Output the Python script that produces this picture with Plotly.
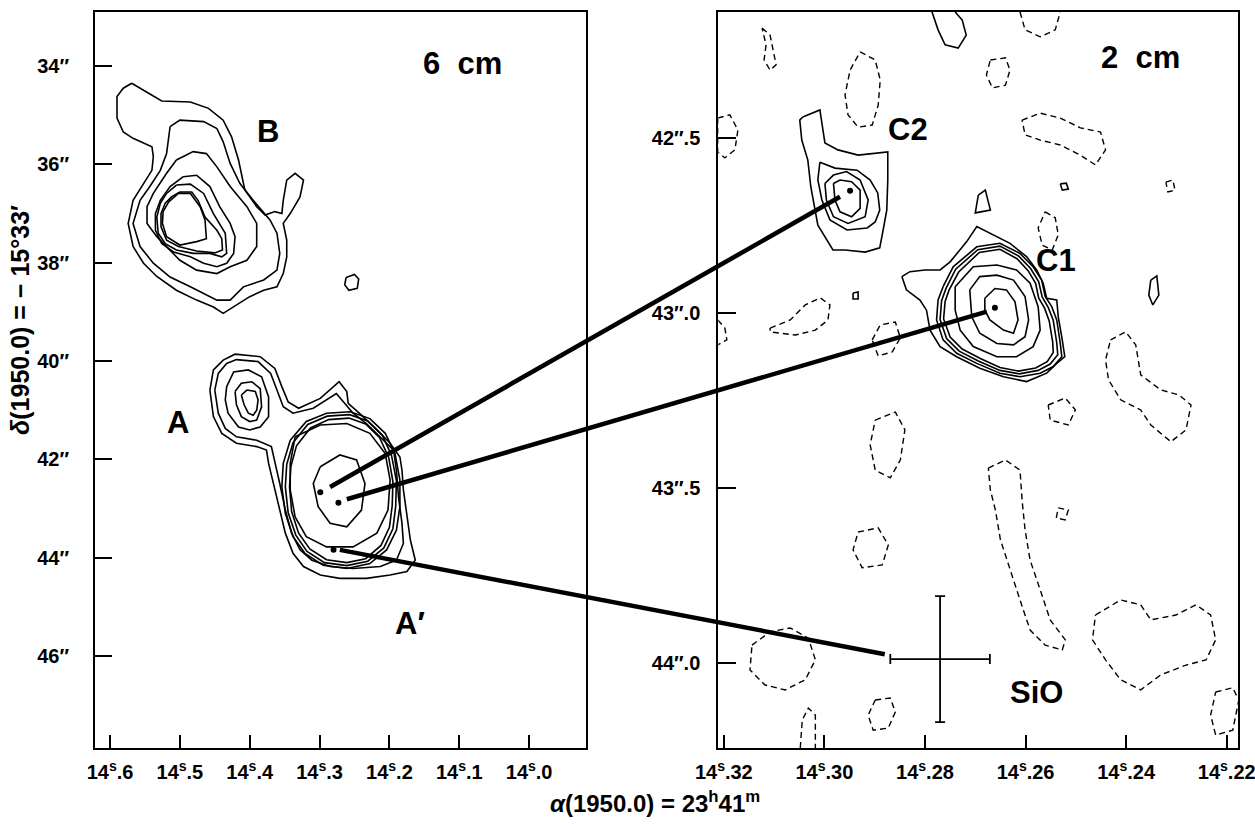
import plotly.graph_objects as go

# ---------------- data (RA seconds, Dec arcsec) ----------------
# Left panel: 6 cm map.  Source B contours (outer -> inner)
B_RINGS = [
    [(14.569,34.35),(14.545,34.56),(14.526,34.71),(14.485,34.73),(14.459,34.86),(14.438,35.10),(14.426,35.44),
     (14.416,35.91),(14.407,36.52),(14.390,36.86),(14.378,37.03),(14.364,36.96),(14.354,37.00),(14.352,36.73),
     (14.347,36.32),(14.335,36.18),(14.323,36.32),(14.328,36.66),(14.342,37.00),(14.352,37.20),(14.347,37.54),
     (14.347,37.88),(14.352,38.22),(14.361,38.49),(14.380,38.56),(14.400,38.69),(14.423,38.90),(14.438,39.03),
     (14.452,38.90),(14.476,38.76),(14.505,38.56),(14.533,38.28),(14.552,38.01),(14.567,37.67),(14.574,37.20),
     (14.567,36.73),(14.552,36.39),(14.540,36.12),(14.538,35.84),(14.540,35.64),(14.567,35.47),(14.581,35.34),
     (14.590,35.06),(14.590,34.62),(14.581,34.45)],
    [(14.514,35.23),(14.500,35.10),(14.466,35.13),(14.447,35.27),(14.438,35.54),(14.428,35.98),(14.414,36.39),
     (14.395,36.73),(14.371,37.13),(14.361,37.40),(14.357,37.81),(14.361,38.15),(14.380,38.35),(14.409,38.49),
     (14.428,38.76),(14.447,38.76),(14.485,38.49),(14.514,38.29),(14.538,38.01),(14.557,37.67),(14.567,37.20),
     (14.557,36.73),(14.543,36.45),(14.528,36.12),(14.519,35.78),(14.516,35.44)],
    [(14.505,35.91),(14.481,35.74),(14.462,35.78),(14.447,36.05),(14.428,36.45),(14.404,36.86),(14.390,37.20),
     (14.390,37.67),(14.404,37.95),(14.428,38.08),(14.447,38.22),(14.476,38.15),(14.500,37.95),(14.519,37.67),
     (14.533,37.47),(14.547,37.20),(14.547,36.86),(14.538,36.59),(14.519,36.18)],
    [(14.495,36.25),(14.476,36.22),(14.457,36.45),(14.443,36.86),(14.428,37.20),(14.421,37.47),(14.423,37.81),
     (14.433,38.01),(14.447,38.08),(14.466,38.01),(14.485,37.88),(14.509,37.78),(14.526,37.61),(14.535,37.34),
     (14.535,37.00),(14.528,36.73),(14.514,36.45)],
    [(14.505,36.42),(14.485,36.40),(14.466,36.59),(14.452,37.00),(14.435,37.40),(14.433,37.81),(14.440,37.88),
     (14.457,37.81),(14.481,37.81),(14.505,37.74),(14.521,37.61),(14.531,37.40),(14.533,37.07),(14.528,36.79),
     (14.519,36.59)],
    [(14.500,36.56),(14.483,36.56),(14.474,36.73),(14.464,37.07),(14.447,37.34),(14.440,37.51),(14.439,37.74),
     (14.450,37.80),(14.476,37.76),(14.502,37.67),(14.519,37.54),(14.527,37.27),(14.527,37.00),(14.521,36.79),
     (14.512,36.66)],
    [(14.502,36.59),(14.485,36.59),(14.471,36.86),(14.464,37.13),(14.462,37.51),(14.476,37.57),(14.500,37.64),
     (14.519,37.47),(14.525,37.20),(14.524,36.96),(14.516,36.76)],
]
B_KNOT = [(14.262,38.30),(14.250,38.24),(14.244,38.33),(14.246,38.52),(14.258,38.56),(14.264,38.45)]

# Source A complex (outer envelopes, side lobe rings, main ellipse rings)
A_ENVELOPES = [
    [(14.457,40.59),(14.452,40.18),(14.438,39.98),(14.421,39.86),(14.385,39.91),(14.364,40.15),(14.354,40.52),
     (14.345,40.83),(14.330,40.96),(14.299,40.76),(14.272,40.42),(14.261,40.62),(14.259,40.86),(14.240,41.10),
     (14.218,41.40),(14.199,41.67),(14.185,41.95),(14.182,42.22),(14.180,42.62),(14.175,43.17),(14.170,43.64),
     (14.163,44.05),(14.175,44.28),(14.199,44.35),(14.233,44.42),(14.271,44.42),(14.299,44.35),(14.323,44.18),
     (14.338,43.91),(14.349,43.50),(14.357,43.03),(14.366,42.49),(14.373,42.08),(14.376,41.81),(14.390,41.74),
     (14.419,41.67),(14.440,41.47),(14.452,41.13)],
    [(14.450,40.59),(14.445,40.25),(14.433,40.05),(14.419,39.97),(14.388,40.01),(14.370,40.25),(14.361,40.59),
     (14.352,40.93),(14.338,41.06),(14.309,40.96),(14.276,40.66),(14.264,40.86),(14.252,41.06),(14.233,41.27),
     (14.213,41.54),(14.194,41.81),(14.190,42.22),(14.187,42.76),(14.182,43.30),(14.180,43.71),(14.190,44.05),
     (14.213,44.18),(14.252,44.22),(14.285,44.18),(14.311,44.05),(14.328,43.84),(14.340,43.50),(14.349,43.03),
     (14.357,42.49),(14.364,42.08),(14.369,41.74),(14.390,41.61),(14.419,41.54),(14.435,41.37),(14.445,41.06)],
]
A_LOBE_RINGS = [
    [(14.433,40.52),(14.423,40.22),(14.402,40.18),(14.383,40.32),(14.373,40.73),(14.373,41.13),(14.385,41.34),
     (14.400,41.40),(14.416,41.34),(14.431,41.06),(14.435,40.79)],
    [(14.421,40.62),(14.412,40.45),(14.397,40.42),(14.385,40.56),(14.383,40.93),(14.390,41.20),(14.400,41.23),
     (14.412,41.13),(14.419,40.89)],
    [(14.412,40.69),(14.404,40.59),(14.392,40.62),(14.388,40.79),(14.390,41.00),(14.395,41.10),(14.402,41.06),
     (14.408,40.89)],
]
A_MAIN_RINGS = [
    [(14.342,41.61),(14.319,41.23),(14.290,41.06),(14.256,41.03),(14.228,41.17),(14.206,41.47),(14.192,41.88),
     (14.185,42.42),(14.185,42.96),(14.190,43.44),(14.204,43.84),(14.228,44.12),(14.261,44.22),(14.295,44.15),
     (14.321,43.91),(14.338,43.57),(14.349,43.10),(14.354,42.56),(14.352,42.08)],
    [(14.338,41.66),(14.317,41.29),(14.289,41.12),(14.257,41.09),(14.231,41.22),(14.210,41.51),(14.197,41.92),
     (14.190,42.43),(14.191,42.95),(14.195,43.41),(14.208,43.80),(14.231,44.07),(14.261,44.16),(14.293,44.10),
     (14.318,43.87),(14.334,43.54),(14.345,43.08),(14.349,42.56),(14.347,42.10)],
    [(14.333,41.72),(14.313,41.36),(14.287,41.19),(14.258,41.16),(14.234,41.28),(14.214,41.56),(14.201,41.96),
     (14.195,42.45),(14.196,42.94),(14.200,43.38),(14.212,43.75),(14.234,44.02),(14.261,44.10),(14.290,44.04),
     (14.314,43.82),(14.330,43.50),(14.340,43.06),(14.343,42.56),(14.341,42.14)],
    [(14.335,41.54),(14.299,41.30),(14.261,41.27),(14.228,41.47),(14.206,41.88),(14.199,42.42),(14.202,43.03),
     (14.218,43.50),(14.252,43.78),(14.290,43.78),(14.319,43.57),(14.335,43.17),(14.342,42.62),(14.342,42.08)],
    [(14.299,42.15),(14.271,41.91),(14.247,42.01),(14.235,42.49),(14.240,43.03),(14.261,43.37),(14.285,43.30),
     (14.302,42.96),(14.309,42.49)],
]
# component positions marked in the 6 cm panel
A_DOTS_RA = [14.299, 14.273, 14.280]
A_DOTS_DEC = [42.67, 42.88, 43.84]

# Right panel: 2 cm map, positive contours
C2_RINGS = [
    [(14.3043,42.441),(14.3009,42.421),(14.2999,42.515),(14.2973,42.535),(14.2933,42.550),(14.2874,42.541),
     (14.2874,42.621),(14.2876,42.707),(14.2884,42.770),(14.2890,42.815),(14.2919,42.827),(14.2959,42.821),
     (14.2983,42.821),(14.3013,42.750),(14.3027,42.641),(14.3033,42.564),(14.3045,42.507),(14.3049,42.450)],
    [(14.3009,42.570),(14.2979,42.587),(14.2935,42.593),(14.2909,42.621),(14.2894,42.658),(14.2890,42.707),
     (14.2899,42.741),(14.2915,42.758),(14.2955,42.764),(14.2989,42.735),(14.3005,42.678),(14.3013,42.621)],
    [(14.2999,42.631),(14.2982,42.607),(14.2956,42.597),(14.2929,42.621),(14.2913,42.678),(14.2919,42.726),
     (14.2953,42.745),(14.2982,42.726),(14.2996,42.678)],
    [(14.2982,42.631),(14.2969,42.621),(14.2946,42.626),(14.2929,42.650),(14.2929,42.702),(14.2946,42.726),
     (14.2969,42.712),(14.2979,42.678)],
]
C1_RINGS = [
    [(14.2846,42.897),(14.2830,42.883),(14.2800,42.878),(14.2770,42.878),(14.2750,42.855),(14.2717,42.797),
     (14.2697,42.754),(14.2657,42.783),(14.2631,42.802),(14.2598,42.840),(14.2578,42.878),(14.2565,42.916),
     (14.2558,42.959),(14.2538,42.964),(14.2535,43.012),(14.2528,43.069),(14.2522,43.126),(14.2538,43.145),
     (14.2558,43.173),(14.2598,43.197),(14.2644,43.183),(14.2691,43.159),(14.2737,43.126),(14.2770,43.097),
     (14.2790,43.050),(14.2797,42.993),(14.2810,42.964),(14.2837,42.935)],
    [(14.2764,42.926),(14.2744,42.869),(14.2697,42.812),(14.2651,42.802),(14.2611,42.831),(14.2585,42.869),
     (14.2568,42.907),(14.2561,42.954),(14.2548,42.983),(14.2538,43.021),(14.2531,43.088),(14.2528,43.126),
     (14.2545,43.154),(14.2571,43.173),(14.2611,43.183),(14.2651,43.173),(14.2697,43.145),(14.2737,43.116),
     (14.2764,43.078),(14.2777,43.021),(14.2774,42.964)],
    [(14.2758,42.930),(14.2739,42.876),(14.2695,42.820),(14.2651,42.810),(14.2614,42.838),(14.2590,42.874),
     (14.2574,42.911),(14.2567,42.955),(14.2555,42.985),(14.2545,43.022),(14.2538,43.086),(14.2536,43.120),
     (14.2551,43.147),(14.2575,43.165),(14.2612,43.175),(14.2651,43.165),(14.2694,43.138),(14.2732,43.110),
     (14.2757,43.074),(14.2770,43.020),(14.2767,42.966)],
    [(14.2752,42.935),(14.2733,42.884),(14.2692,42.828),(14.2651,42.819),(14.2617,42.846),(14.2595,42.880),
     (14.2580,42.916),(14.2574,42.958),(14.2562,42.988),(14.2553,43.024),(14.2546,43.084),(14.2545,43.114),
     (14.2557,43.140),(14.2580,43.158),(14.2614,43.167),(14.2651,43.157),(14.2690,43.131),(14.2726,43.104),
     (14.2750,43.070),(14.2763,43.018),(14.2760,42.968)],
    [(14.2740,42.926),(14.2704,42.869),(14.2657,42.864),(14.2618,42.878),(14.2591,42.916),(14.2575,42.983),
     (14.2571,43.050),(14.2585,43.097),(14.2618,43.126),(14.2657,43.126),(14.2704,43.097),(14.2730,43.050),
     (14.2740,42.993)],
    [(14.2711,42.935),(14.2691,42.897),(14.2657,42.893),(14.2624,42.907),(14.2601,42.954),(14.2594,43.021),
     (14.2601,43.069),(14.2624,43.092),(14.2657,43.088),(14.2691,43.059),(14.2707,43.012)],
    [(14.2681,42.959),(14.2661,42.931),(14.2638,42.935),(14.2621,42.969),(14.2615,43.021),(14.2624,43.059),
     (14.2644,43.050),(14.2671,43.021),(14.2681,42.993)],
]
# small isolated positive contours in the 2 cm map
POS_SMALL = [
    [(14.2694,42.664),(14.2680,42.650),(14.2670,42.707),(14.2700,42.715)],
    [(14.2531,42.632),(14.2519,42.630),(14.2515,42.647),(14.2527,42.650)],
    [(14.2351,42.907),(14.2339,42.895),(14.2335,42.950),(14.2347,42.978),(14.2355,42.950)],
    [(14.2943,42.944),(14.2933,42.941),(14.2933,42.961),(14.2943,42.961)],
]
POS_OPEN = [
    [(14.2786,42.141),(14.2774,42.192),(14.2760,42.235),(14.2734,42.244),(14.2718,42.207),(14.2726,42.164),(14.2740,42.141)],
]
# negative (dashed) contours in the 2 cm map
NEG_CLOSED = [
    [(14.3124,42.187),(14.3108,42.207),(14.3102,42.250),(14.3096,42.292),(14.3108,42.307),(14.3120,42.278),(14.3116,42.235)],
    [(14.2929,42.255),(14.2899,42.278),(14.2889,42.335),(14.2893,42.407),(14.2905,42.464),(14.2933,42.470),(14.2953,42.435),(14.2959,42.378),(14.2949,42.307)],
    [(14.2670,42.278),(14.2640,42.272),(14.2631,42.307),(14.2640,42.350),(14.2666,42.358),(14.2678,42.321)],
    [(14.2607,42.450),(14.2571,42.430),(14.2531,42.444),(14.2491,42.472),(14.2451,42.484),(14.2441,42.535),(14.2461,42.578),(14.2491,42.550),(14.2531,42.521),(14.2571,42.507),(14.2601,42.492)],
    [(14.2561,42.712),(14.2541,42.729),(14.2535,42.778),(14.2547,42.821),(14.2567,42.807),(14.2575,42.758)],
    [(14.2321,42.627),(14.2307,42.621),(14.2303,42.650),(14.2317,42.655)],
    [(14.3212,42.444),(14.3188,42.435),(14.3172,42.478),(14.3178,42.535),(14.3198,42.558),(14.3212,42.541)],
    [(14.3108,43.044),(14.3068,43.021),(14.3038,42.978),(14.3008,42.958),(14.2989,42.978),(14.2993,43.021),(14.3018,43.050),(14.3058,43.064),(14.3108,43.055)],
    [(14.2905,43.078),(14.2889,43.035),(14.2859,43.027),(14.2849,43.072),(14.2865,43.112),(14.2893,43.124)],
    [(14.2431,43.078),(14.2401,43.055),(14.2381,43.092),(14.2371,43.178),(14.2331,43.221),(14.2295,43.235),(14.2271,43.264),(14.2281,43.335),(14.2311,43.369),(14.2351,43.321),(14.2371,43.278),(14.2411,43.249),(14.2435,43.192),(14.2441,43.135)],
    [(14.2555,43.264),(14.2521,43.244),(14.2501,43.278),(14.2515,43.321),(14.2551,43.307)],
    [(14.2899,43.307),(14.2859,43.284),(14.2840,43.335),(14.2849,43.421),(14.2869,43.472),(14.2899,43.450),(14.2909,43.378)],
    [(14.2674,43.444),(14.2640,43.421),(14.2611,43.450),(14.2607,43.535),(14.2601,43.621),(14.2591,43.707),(14.2571,43.792),(14.2551,43.878),(14.2521,43.935),(14.2527,43.964),(14.2561,43.950),(14.2591,43.907),(14.2611,43.821),(14.2631,43.735),(14.2650,43.649),(14.2660,43.564),(14.2670,43.507)],
    [(14.2535,43.558),(14.2515,43.564),(14.2521,43.592),(14.2539,43.587)],
    [(14.2933,43.627),(14.2893,43.615),(14.2873,43.664),(14.2885,43.721),(14.2925,43.729),(14.2943,43.678)],
    [(14.3144,43.950),(14.3108,43.912),(14.3068,43.901),(14.3032,43.930),(14.3018,43.992),(14.3038,44.049),(14.3078,44.078),(14.3118,44.064),(14.3148,44.021)],
    [(14.2461,43.864),(14.2411,43.821),(14.2371,43.835),(14.2351,43.878),(14.2301,43.864),(14.2261,43.835),(14.2232,43.864),(14.2222,43.935),(14.2241,43.992),(14.2281,44.007),(14.2331,44.035),(14.2371,44.078),(14.2411,44.049),(14.2441,43.992),(14.2467,43.935)],
    [(14.2222,44.084),(14.2188,44.072),(14.2176,44.107),(14.2188,44.193),(14.2222,44.207),(14.2232,44.150)],
    [(14.2899,44.107),(14.2869,44.101),(14.2859,44.141),(14.2873,44.187),(14.2903,44.193),(14.2913,44.150)],
]
NEG_OPEN = [
    [(14.2611,42.141),(14.2601,42.192),(14.2571,42.212),(14.2541,42.192),(14.2531,42.141)],
    [(14.3212,43.021),(14.3198,43.044),(14.3194,43.078),(14.3212,43.092)],
    [(14.3048,44.244),(14.3044,44.164),(14.3032,44.130),(14.3018,44.150),(14.3018,44.244)],
]

C_DOTS_RA = [14.2949, 14.2661]
C_DOTS_DEC = [42.652, 42.986]

# SiO position with error bars
SIO_RA = 14.2770
SIO_DEC = 43.99
SIO_ERR_RA = 0.0099
SIO_ERR_DEC = 0.18

# connecting lines: (start RA, start Dec) in 6 cm panel -> (end RA, end Dec) in 2 cm panel
LINK_START = [(14.285, 42.56), (14.261, 42.81), (14.271, 43.84)]
LINK_END = [(14.2969, 42.669), (14.2677, 42.997), (14.288, 43.976)]

# ---------------- axes ----------------
L_XRANGE = [14.6215, 13.919]
L_YRANGE = [47.87, 32.90]
R_XRANGE = [14.3211, 14.2177]
R_YRANGE = [44.244, 42.141]
L_XTICKS = [14.6, 14.5, 14.4, 14.3, 14.2, 14.1, 14.0]
L_XLABELS = ["14<sup>s</sup>.6", "14<sup>s</sup>.5", "14<sup>s</sup>.4", "14<sup>s</sup>.3",
             "14<sup>s</sup>.2", "14<sup>s</sup>.1", "14<sup>s</sup>.0"]
L_YTICKS = [34, 36, 38, 40, 42, 44, 46]
L_YLABELS = ["34″", "36″", "38″", "40″", "42″", "44″", "46″"]
R_XTICKS = [14.32, 14.30, 14.28, 14.26, 14.24, 14.22]
R_XLABELS = ["14<sup>s</sup>.32", "14<sup>s</sup>.30", "14<sup>s</sup>.28", "14<sup>s</sup>.26",
             "14<sup>s</sup>.24", "14<sup>s</sup>.22"]
R_YTICKS = [42.5, 43.0, 43.5, 44.0]
R_YLABELS = ["42″.5", "43″.0", "43″.5", "44″.0"]

XD1 = [95/1255, 585.7/1255]
XD2 = [718.3/1255, 1238.3/1255]
YD = [1-748/825, 1-12/825]

FONT = "Liberation Sans, Arial, Helvetica, sans-serif"
fig = go.Figure()

def ring(pts, xa, ya, dash="solid", w=1.6, closed=True):
    xs = [p[0] for p in pts]
    ys = [p[1] for p in pts]
    if closed:
        xs.append(pts[0][0]); ys.append(pts[0][1])
    fig.add_trace(go.Scatter(x=xs, y=ys, mode="lines", xaxis=xa, yaxis=ya,
                             line=dict(color="black", width=w, dash=dash),
                             hoverinfo="skip", showlegend=False))

for r in B_RINGS + [B_KNOT] + A_ENVELOPES + A_LOBE_RINGS + A_MAIN_RINGS:
    ring(r, "x", "y")
for r in C2_RINGS + C1_RINGS + POS_SMALL:
    ring(r, "x2", "y2")
for r in POS_OPEN:
    ring(r, "x2", "y2", closed=False)
for r in NEG_CLOSED:
    ring(r, "x2", "y2", dash="6px,4px", w=1.4)
for r in NEG_OPEN:
    ring(r, "x2", "y2", dash="6px,4px", w=1.4, closed=False)

fig.add_trace(go.Scatter(x=A_DOTS_RA, y=A_DOTS_DEC, mode="markers", xaxis="x", yaxis="y",
                         marker=dict(color="black", size=6), showlegend=False, hoverinfo="skip"))
fig.add_trace(go.Scatter(x=C_DOTS_RA, y=C_DOTS_DEC, mode="markers", xaxis="x2", yaxis="y2",
                         marker=dict(color="black", size=6), showlegend=False, hoverinfo="skip"))

# SiO cross
fig.add_trace(go.Scatter(x=[SIO_RA], y=[SIO_DEC], mode="markers", xaxis="x2", yaxis="y2",
                         marker=dict(color="black", size=1),
                         error_x=dict(type="constant", value=SIO_ERR_RA, color="black", thickness=1.8, width=5),
                         error_y=dict(type="constant", value=SIO_ERR_DEC, color="black", thickness=1.8, width=5),
                         showlegend=False, hoverinfo="skip"))

def to_paper(v, rng, dom):
    return dom[0] + (v - rng[0]) / (rng[1] - rng[0]) * (dom[1] - dom[0])

shapes = []
for (sx, sy), (ex, ey) in zip(LINK_START, LINK_END):
    shapes.append(dict(type="line", xref="paper", yref="paper",
                       x0=to_paper(sx, L_XRANGE, XD1), y0=to_paper(sy, L_YRANGE, YD),
                       x1=to_paper(ex, R_XRANGE, XD2), y1=to_paper(ey, R_YRANGE, YD),
                       line=dict(color="black", width=4.5)))

LABEL_FONT = dict(family=FONT, size=31, color="black")
ann = [
    dict(x=14.095, y=33.94, xref="x", yref="y", text="<b>6  cm</b>", showarrow=False, font=LABEL_FONT),
    dict(x=14.374, y=35.34, xref="x", yref="y", text="<b>B</b>", showarrow=False, font=LABEL_FONT),
    dict(x=14.503, y=41.24, xref="x", yref="y", text="<b>A</b>", showarrow=False, font=LABEL_FONT),
    dict(x=14.170, y=45.33, xref="x", yref="y", text="<b>A′</b>", showarrow=False, font=LABEL_FONT),
    dict(x=14.2372, y=42.270, xref="x2", yref="y2", text="<b>2  cm</b>", showarrow=False, font=LABEL_FONT),
    dict(x=14.2834, y=42.478, xref="x2", yref="y2", text="<b>C2</b>", showarrow=False, font=LABEL_FONT),
    dict(x=14.2539, y=42.850, xref="x2", yref="y2", text="<b>C1</b>", showarrow=False, font=LABEL_FONT),
    dict(x=14.2579, y=44.084, xref="x2", yref="y2", text="<b>SiO</b>", showarrow=False, font=LABEL_FONT),
    dict(x=655/1255, y=1-802/825, xref="paper", yref="paper", xanchor="center", yanchor="middle",
         text="<b><i>α</i>(1950.0) = 23<sup>h</sup>41<sup>m</sup></b>", showarrow=False,
         font=dict(family=FONT, size=24, color="black")),
    dict(x=20/1255, y=1-320/825, xref="paper", yref="paper", textangle=-90,
         xanchor="center", yanchor="middle",
         text="<b><i>δ</i>(1950.0) = − 15°33′</b>", showarrow=False,
         font=dict(family=FONT, size=25, color="black")),
]

axis_common = dict(showline=True, mirror=True, linecolor="black", linewidth=2, ticks="inside",
                   tickwidth=2, tickcolor="black", showgrid=False, zeroline=False,
                   automargin=False, ticklabeloverflow="allow",
                   tickfont=dict(family=FONT, size=20, color="black"))

fig.update_layout(
    width=1255, height=825, margin=dict(l=0, r=0, t=0, b=0),
    paper_bgcolor="white", plot_bgcolor="white",
    xaxis=dict(domain=XD1, range=L_XRANGE, tickvals=L_XTICKS, ticktext=["<b>"+t+"</b>" for t in L_XLABELS],
               anchor="y", ticklen=13, ticklabelstandoff=5, **axis_common),
    yaxis=dict(domain=YD, range=L_YRANGE, tickvals=L_YTICKS, ticktext=["<b>"+t+"</b>" for t in L_YLABELS],
               anchor="x", ticklen=17, ticklabelstandoff=20, **axis_common),
    xaxis2=dict(domain=XD2, range=R_XRANGE, tickvals=R_XTICKS, ticktext=["<b>"+t+"</b>" for t in R_XLABELS],
                anchor="y2", ticklen=13, ticklabelstandoff=5, **axis_common),
    yaxis2=dict(domain=YD, range=R_YRANGE, tickvals=R_YTICKS, ticktext=["<b>"+t+"</b>" for t in R_YLABELS],
                anchor="x2", ticklen=18, ticklabelstandoff=12, **axis_common),
    shapes=shapes, annotations=ann,
)

fig.write_html("out.html", config={"displayModeBar": False},
               post_script="document.body.style.margin='0px';document.body.style.padding='0px';"
                           "document.body.style.overflow='hidden';")
